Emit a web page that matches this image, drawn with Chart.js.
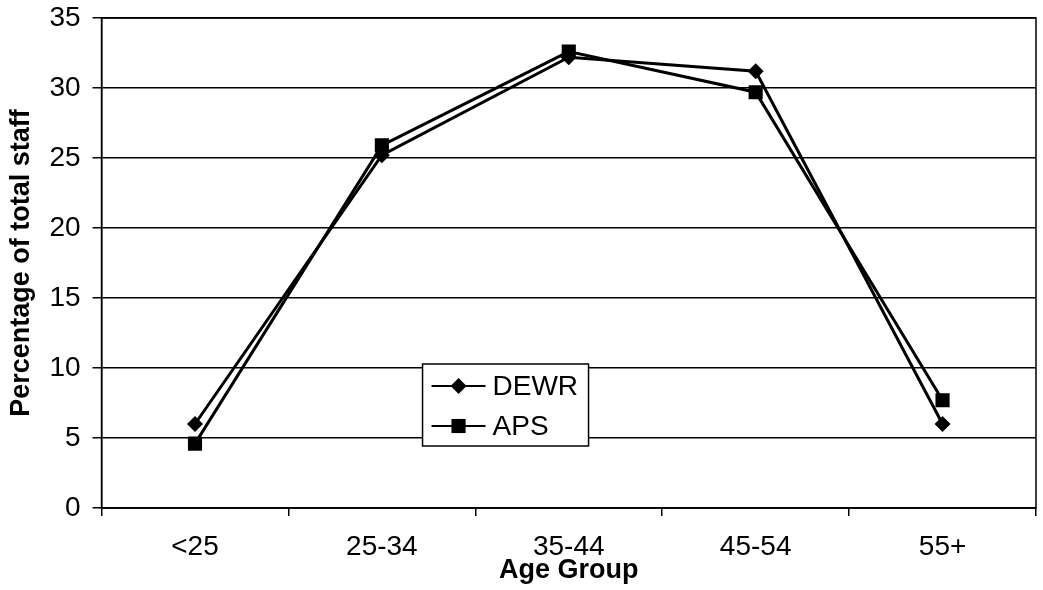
<!DOCTYPE html>
<html>
<head>
<meta charset="utf-8">
<script src="https://cdn.jsdelivr.net/npm/chart.js@4/dist/chart.umd.min.js"></script>
<style>
body { margin: 0; background: #fff; }
#wrap { width: 1043px; height: 590px; position: relative; }
</style>
</head>
<body>
<div id="wrap"><canvas id="myChart"></canvas></div>
<script>
var ageGroups = ['<25', '25-34', '35-44', '45-54', '55+'];
var dewr = [6.0, 25.2, 32.2, 31.2, 6.0];
var aps = [4.6, 25.9, 32.6, 29.7, 7.7];
var yTicks = [0, 5, 10, 15, 20, 25, 30, 35];

var FONT = "'Liberation Sans', Arial, sans-serif";

// box round the plot area
var frame = {
    id: 'frame',
    afterDatasetsDraw: function(chart) {
        var a = chart.chartArea, ctx = chart.ctx;
        ctx.save();
        ctx.strokeStyle = '#000';
        ctx.lineWidth = 1.5;
        ctx.strokeRect(a.left, a.top, a.right - a.left, a.bottom - a.top);
        ctx.restore();
    }
};

// legend sits inside the plot, boxed
var boxLegend = {
    id: 'boxLegend',
    afterDraw: function(chart) {
        var ctx = chart.ctx, a = chart.chartArea;
        var x = a.left + 321, y = a.top + 346, w = 166, h = 82;
        ctx.save();
        ctx.fillStyle = '#fff';
        ctx.fillRect(x, y, w, h);
        ctx.strokeStyle = '#000';
        ctx.lineWidth = 1.5;
        ctx.strokeRect(x, y, w, h);
        chart.data.datasets.forEach(function(ds, i) {
            var cy = y + 22 + i * 40;
            ctx.strokeStyle = '#000';
            ctx.lineWidth = 2;
            ctx.beginPath();
            ctx.moveTo(x + 9, cy);
            ctx.lineTo(x + 63, cy);
            ctx.stroke();
            ctx.fillStyle = '#000';
            Chart.helpers.drawPoint(ctx, {
                pointStyle: ds.pointStyle,
                radius: ds.pointRadius,
                rotation: 0,
                borderWidth: 0
            }, x + 36, cy);
            ctx.fillStyle = '#000';
            ctx.font = '28px ' + FONT;
            ctx.textBaseline = 'middle';
            ctx.textAlign = 'left';
            ctx.fillText(ds.label, x + 70, cy + 1);
        });
        ctx.restore();
    }
};

var ctx = document.getElementById('myChart').getContext('2d');
var myChart = new Chart(ctx, {
    type: 'line',
    data: {
        labels: ageGroups,
        datasets: [
            {
                label: 'DEWR',
                data: dewr,
                borderColor: '#000',
                backgroundColor: '#000',
                borderWidth: 3,
                pointStyle: 'rectRot',
                pointRadius: 8,
                pointBorderWidth: 0
            },
            {
                label: 'APS',
                data: aps,
                borderColor: '#000',
                backgroundColor: '#000',
                borderWidth: 3,
                pointStyle: 'rect',
                pointRadius: 10,
                pointBorderWidth: 0
            }
        ]
    },
    options: {
        responsive: true,
        maintainAspectRatio: false,
        animation: false,
        layout: {
            autoPadding: false,
            padding: { left: 5, right: 7, top: 18, bottom: 2 }
        },
        plugins: {
            legend: { display: false },
            tooltip: { enabled: false }
        },
        elements: { line: { tension: 0 } },
        scales: {
            x: {
                offset: true,
                afterFit: function(scale) {
                    scale.paddingLeft = 0;
                    scale.paddingRight = 0;
                },
                grid: {
                    offset: true,
                    drawOnChartArea: false,
                    drawTicks: true,
                    tickLength: 8,
                    color: '#000',
                    lineWidth: 1.5
                },
                border: { color: '#000', width: 1.5 },
                ticks: {
                    color: '#000',
                    padding: 17,
                    font: { family: FONT, size: 28, lineHeight: 1 },
                    maxRotation: 0
                },
                title: {
                    display: true,
                    text: 'Age Group',
                    color: '#000',
                    padding: { top: -21, bottom: 4 },
                    font: { family: FONT, size: 27, weight: 'bold', lineHeight: 1 }
                }
            },
            y: {
                min: 0,
                max: 35,
                afterBuildTicks: function(scale) {
                    scale.ticks = yTicks.map(function(v) { return { value: v }; });
                },
                afterFit: function(scale) {
                    scale.paddingTop = 0;
                    scale.paddingBottom = 0;
                },
                grid: {
                    color: '#000',
                    lineWidth: 1.5,
                    tickLength: 9
                },
                border: { color: '#000', width: 1.5 },
                ticks: {
                    color: '#000',
                    padding: 12,
                    font: { family: FONT, size: 28, lineHeight: 1 }
                },
                title: {
                    display: true,
                    text: 'Percentage of total staff',
                    color: '#000',
                    padding: { top: 0, bottom: 0 },
                    font: { family: FONT, size: 27, weight: 'bold', lineHeight: 1.2 }
                }
            }
        }
    },
    plugins: [frame, boxLegend]
});
</script>
</body>
</html>
